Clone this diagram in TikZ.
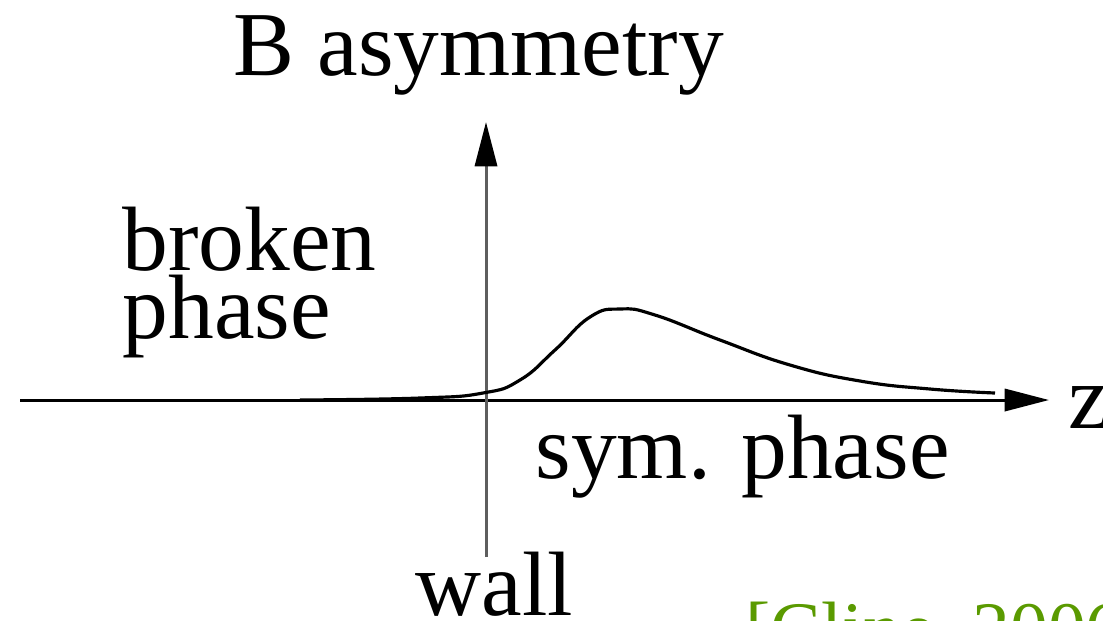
\documentclass[tikz,border=0pt]{standalone}
\usepackage{fontspec}
\setmainfont{Liberation Serif}
\usetikzlibrary{arrows.meta}
\definecolor{CiteGreen}{HTML}{5A9A00}
\definecolor{AxisGray}{HTML}{5E5E5E}
\tikzset{lab/.style={inner sep=0pt,anchor=base west,font=\fontsize{26}{17.6}\selectfont},axis/.style={line width=0.85pt,-{Triangle[length=12.6pt,width=6.3pt,color=black]}}}

\begin{document}
\begin{tikzpicture}[x=0.01cm,y=-0.01cm]
\useasboundingbox (0,0) rectangle (1103,620);
\coordinate (zstart) at (20,400);
\coordinate (zend) at (1049,400);
\coordinate (wallfoot) at (486,557);
\coordinate (walltop) at (486,122);
\draw[axis] (zstart)--(zend);
\draw[axis,AxisGray] (wallfoot)--(walltop);
% asymmetry profile across the wall
\draw[line width=0.9pt] plot[smooth,tension=0.8] coordinates {(300,400) (420,398) (483,393) (520,380) (555,350) (590,317) (620,309) (655,315) (720,340) (790,365) (860,381) (930,389) (995,393)};
\node[lab] (zlab) at (1068,428) {z};
\node[lab] (title) at (233,75) {B asymmetry};
\node[lab,align=left] (broken) at (122,338) {broken\\phase};
\node[lab] (sym) at (535,478) {sym. phase};
\node[lab] (wall) at (415,615) {wall};
\node[lab,CiteGreen,font=\fontsize{21.5}{24}\selectfont] (cite) at (745,654) {[Cline, 2006]};
\end{tikzpicture}
\end{document}
